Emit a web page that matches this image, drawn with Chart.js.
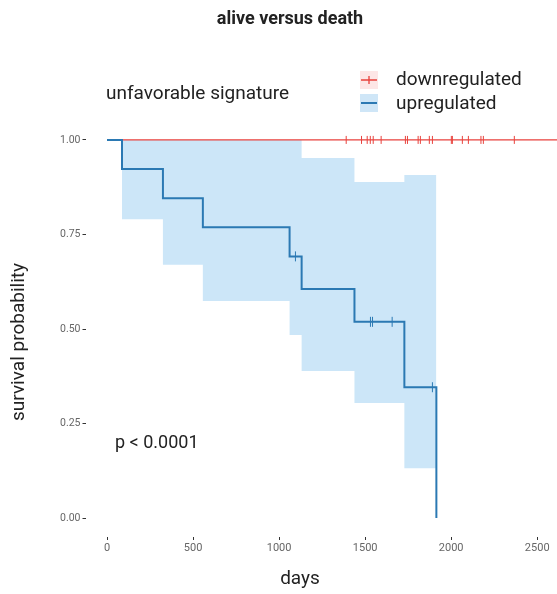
<!DOCTYPE html>
<html lang="en">
<head>
<meta charset="UTF-8">
<title>alive versus death</title>
<script src="https://cdn.jsdelivr.net/npm/chart.js"></script>
<style>
  html, body { margin: 0; padding: 0; background: #fff; overflow: hidden; }
  #wrap { width: 557px; height: 594px; }
</style>
</head>
<body>
<div id="wrap"><canvas id="km"></canvas></div>
<script>
// tick labels
const xTicks = [0, 500, 1000, 1500, 2000, 2500];
const yTicks = [0, 0.25, 0.5, 0.75, 1];

// upregulated group: KM steps
const upTimes = [0, 87, 325, 557, 1061, 1131, 1438, 1728, 1914];
const upSurv = [1, 0.923, 0.846, 0.769, 0.692, 0.606, 0.519, 0.346, 0];
// confidence band
const bandTimes = [87, 325, 557, 1061, 1131, 1438, 1728, 1914];
const bandUpper = [1, 1, 1, 1, 0.952, 0.889, 0.907, 0.907];
const bandLower = [0.79, 0.67, 0.574, 0.484, 0.389, 0.304, 0.132, 0.132];
// censored
const upCensorTimes = [1095, 1531, 1543, 1657, 1891];
const upCensorSurv = [0.692, 0.519, 0.519, 0.519, 0.346];

// downregulated group: no events
const downTimes = [0, 2615];
const downSurv = [1, 1];
const downCensorTimes = [1390, 1479, 1512, 1530, 1547, 1593, 1734, 1746, 1808, 1821,
  1873, 1891, 2001, 2007, 2065, 2100, 2173, 2187, 2367];

const pts = (xs, ys) => xs.map((x, i) => ({ x: x, y: ys[i] }));

const RED = '#e8413c';
const BLUE = '#2b79b3';
const FONT = 'Roboto, "Noto Sans", sans-serif';

const decor = {
  id: 'decor',
  afterDraw(chart) {
    const ctx = chart.ctx;
    ctx.save();
    ctx.fillStyle = '#222';
    ctx.textBaseline = 'middle';
    // title
    ctx.font = 'bold 18px ' + FONT;
    ctx.textAlign = 'center';
    ctx.fillText('alive versus death', 290, 19);
    // axis titles
    ctx.font = '19px ' + FONT;
    ctx.fillText('days', 300, 579);
    ctx.save();
    ctx.translate(19, 342);
    ctx.rotate(-Math.PI / 2);
    ctx.fillText('survival probability', 0, 0);
    ctx.restore();
    // legend title
    ctx.textAlign = 'left';
    ctx.fillText('unfavorable signature', 106, 94);
    // legend keys
    ctx.fillStyle = '#fde6e6';
    ctx.fillRect(360, 71, 18, 18);
    ctx.fillStyle = '#cfe6f7';
    ctx.fillRect(360, 94, 18, 18);
    ctx.strokeStyle = RED;
    ctx.lineWidth = 1.3;
    ctx.beginPath();
    ctx.moveTo(361, 80); ctx.lineTo(377, 80);
    ctx.moveTo(369, 76); ctx.lineTo(369, 84);
    ctx.stroke();
    ctx.strokeStyle = BLUE;
    ctx.lineWidth = 2;
    ctx.beginPath();
    ctx.moveTo(361, 103); ctx.lineTo(377, 103);
    ctx.stroke();
    ctx.fillStyle = '#222';
    ctx.fillText('downregulated', 396, 80);
    ctx.fillText('upregulated', 396, 104);
    // p value
    ctx.font = '18px ' + FONT;
    ctx.fillText('p < 0.0001', 115, 443);
    ctx.restore();
  }
};

new Chart(document.getElementById('km'), {
  type: 'line',
  data: {
    datasets: [
      {
        data: pts(bandTimes, bandUpper),
        stepped: 'before',
        borderWidth: 0,
        pointRadius: 0,
        backgroundColor: 'rgba(170, 213, 243, 0.6)',
        fill: '+1',
        order: 6
      },
      {
        data: pts(bandTimes, bandLower),
        stepped: 'before',
        borderWidth: 0,
        pointRadius: 0,
        fill: false,
        order: 6
      },
      {
        data: pts(downTimes, downSurv),
        borderColor: RED,
        borderWidth: 1.4,
        pointRadius: 0,
        fill: false,
        order: 4
      },
      {
        data: pts(upTimes, upSurv),
        stepped: 'before',
        borderColor: BLUE,
        borderWidth: 2,
        pointRadius: 0,
        fill: false,
        order: 3
      },
      {
        data: downCensorTimes.map(x => ({ x: x, y: 1 })),
        showLine: false,
        pointStyle: 'line',
        rotation: 90,
        pointRadius: 4,
        borderColor: RED,
        borderWidth: 1,
        order: 1
      },
      {
        data: pts(upCensorTimes, upCensorSurv),
        showLine: false,
        pointStyle: 'line',
        rotation: 90,
        pointRadius: 5,
        borderColor: BLUE,
        borderWidth: 1,
        order: 1
      }
    ]
  },
  options: {
    responsive: true,
    maintainAspectRatio: false,
    animation: false,
    layout: { autoPadding: false, padding: { top: 121, right: 0, left: 0, bottom: 0 } },
    plugins: {
      legend: { display: false },
      tooltip: { enabled: false }
    },
    scales: {
      x: {
        type: 'linear',
        min: -125,
        max: 2615,
        afterFit(s) { s.height = 57; s.paddingLeft = 0; s.paddingRight = 0; },
        afterBuildTicks(s) { s.ticks = xTicks.map(v => ({ value: v })); },
        ticks: {
          padding: 2,
          color: '#666',
          font: { size: 11, family: FONT },
          maxRotation: 0,
          callback: v => String(v)
        },
        grid: { drawOnChartArea: false, tickLength: 3, tickColor: '#333' },
        border: { display: false },
        title: { display: false }
      },
      y: {
        min: -0.05,
        max: 1.05,
        afterFit(s) { s.width = 85.5; s.paddingTop = 0; s.paddingBottom = 0; },
        afterBuildTicks(s) { s.ticks = yTicks.map(v => ({ value: v })); },
        ticks: {
          padding: 2,
          color: '#666',
          font: { size: 10.5, family: FONT },
          callback: v => Number(v).toFixed(2)
        },
        grid: { drawOnChartArea: false, tickLength: 3, tickColor: '#333' },
        border: { display: false },
        title: { display: false }
      }
    }
  },
  plugins: [decor]
});
</script>
</body>
</html>
